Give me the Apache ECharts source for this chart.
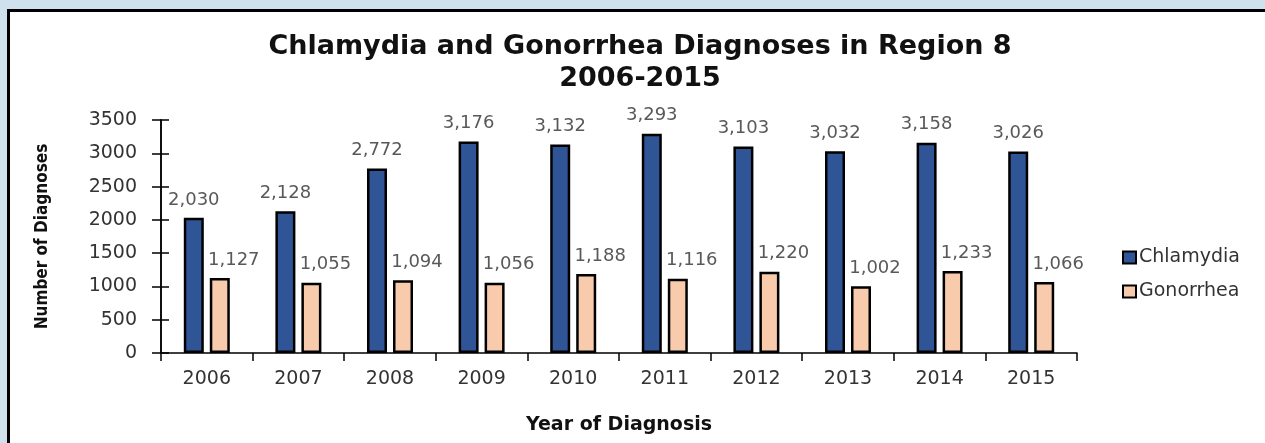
<!DOCTYPE html>
<html>
<head>
<meta charset="utf-8">
<script src="https://cdn.jsdelivr.net/npm/echarts@6/dist/echarts.min.js"></script>
<style>
  html, body { margin: 0; padding: 0; width: 1265px; height: 443px; overflow: hidden; background: #cfe1ec; }
  #frame { position: absolute; left: 7px; top: 9px; width: 1300px; height: 500px; background: #ffffff; border-left: 3px solid #000; border-top: 3px solid #000; }
  #chart { position: absolute; left: 0; top: 0; width: 1265px; height: 443px; }
</style>
</head>
<body>
<div id="frame"></div>
<div id="chart"></div>
<script>
const titleText = 'Chlamydia and Gonorrhea Diagnoses in Region 8';
const subTitleText = '2006-2015';
const years = ['2006', '2007', '2008', '2009', '2010', '2011', '2012', '2013', '2014', '2015'];
const chlamydia = [2030, 2128, 2772, 3176, 3132, 3293, 3103, 3032, 3158, 3026];
const gonorrhea = [1127, 1055, 1094, 1056, 1188, 1116, 1220, 1002, 1233, 1066];
const yTicks = { min: 0, max: 3500, interval: 500 };

const fmt = p => Number(p.value).toLocaleString('en-US');
const tickFont = 'DejaVu Sans';
const boldFont = 'DejaVu Sans';
const chart = echarts.init(document.getElementById('chart'), null, { renderer: 'canvas' });
chart.setOption({
  backgroundColor: 'transparent',
  animation: false,
  title: {
    text: titleText + '\n' + subTitleText,
    left: 635, top: 26, textAlign: 'center',
    textStyle: { fontFamily: boldFont, fontWeight: 'bold', fontSize: 27, lineHeight: 32, color: '#111111' }
  },
  legend: {
    orient: 'vertical', left: 1117, top: 243, itemWidth: 13, itemHeight: 12, itemGap: 15,
    icon: 'rect',
    itemStyle: { borderColor: '#000', borderWidth: 2 },
    textStyle: { fontFamily: tickFont, fontSize: 19, color: '#333333', padding: [0, 0, 0, -2] },
    data: ['Chlamydia', 'Gonorrhea']
  },
  grid: { left: 161, right: 188, top: 120, bottom: 90 },
  xAxis: {
    type: 'category', data: years,
    name: 'Year of Diagnosis', nameLocation: 'middle', nameGap: 63,
    nameTextStyle: { fontFamily: boldFont, fontWeight: 'bold', fontSize: 19, color: '#111111' },
    axisLine: { lineStyle: { color: '#000', width: 1.5 } },
    axisTick: { show: true, length: 8, lineStyle: { color: '#000', width: 1.5 } },
    axisLabel: { margin: 17, fontFamily: tickFont, fontSize: 19, color: '#333333' }
  },
  yAxis: [{
    type: 'value', min: yTicks.min, max: yTicks.max, interval: yTicks.interval,
    name: 'Number of Diagnoses', nameLocation: 'middle', nameGap: 110, nameRotate: 90,
    nameTextStyle: { fontFamily: '"DejaVu Sans Condensed", "Liberation Sans", sans-serif', fontWeight: 'bold', fontSize: 17, color: '#111111' },
    axisLine: { show: true, lineStyle: { color: '#000', width: 1.5 } },
    axisTick: { show: true, length: 9, lineStyle: { color: '#000', width: 1.5 } },
    axisLabel: { margin: 24, fontFamily: tickFont, fontSize: 19, color: '#333333', formatter: v => String(v) },
    splitLine: { show: false }
  }, {
    type: 'value', position: 'left', offset: 0, min: yTicks.min, max: yTicks.max, interval: yTicks.interval,
    axisLine: { show: true, lineStyle: { color: '#000', width: 1.5 } },
    axisTick: { show: true, inside: true, length: 8, lineStyle: { color: '#000', width: 1.5 } },
    axisLabel: { show: false },
    splitLine: { show: false }
  }],
  series: [{
    name: 'Chlamydia', type: 'bar', data: chlamydia, barWidth: 20, barGap: '30%',
    itemStyle: { color: '#2f5597', borderColor: '#000', borderWidth: 2.5 },
    label: { show: true, position: 'top', distance: 9, formatter: fmt, fontFamily: tickFont, fontSize: 18, color: '#595959' }
  }, {
    name: 'Gonorrhea', type: 'bar', data: gonorrhea, barWidth: 20, barGap: '30%',
    itemStyle: { color: '#f8cbad', borderColor: '#000', borderWidth: 2.5 },
    label: { show: true, position: 'top', distance: 9, offset: [14, 0], formatter: fmt, fontFamily: tickFont, fontSize: 18, color: '#595959' }
  }]
});
</script>
</body>
</html>
